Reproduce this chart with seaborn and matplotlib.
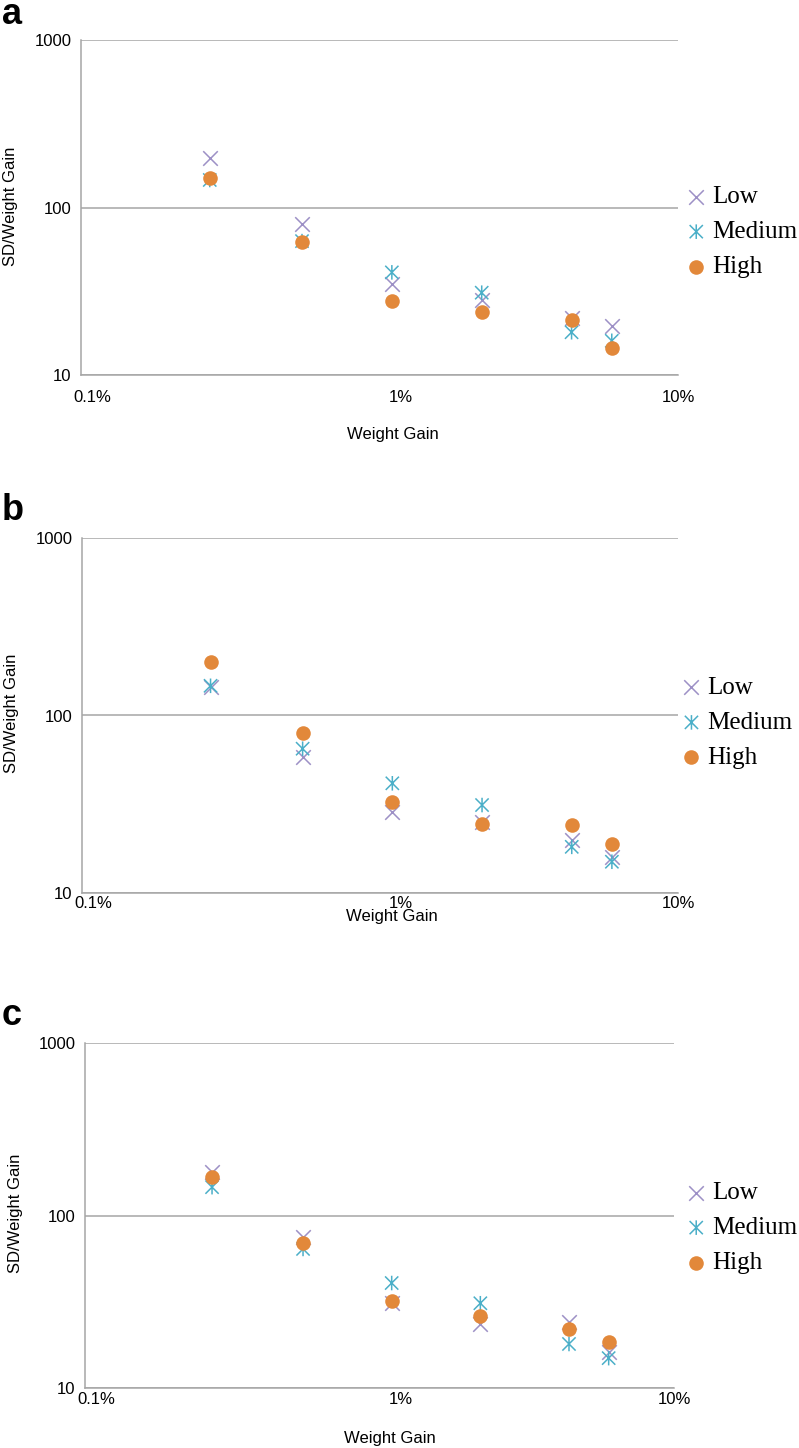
import numpy as np
import pandas as pd
import seaborn as sns
import matplotlib.pyplot as plt
from matplotlib.path import Path
from matplotlib.transforms import ScaledTranslation

sns.set_theme(style="white")
plt.rcParams['font.family'] = ['Liberation Sans', 'DejaVu Sans']
plt.rcParams['text.color'] = 'black'
plt.rcParams['axes.labelcolor'] = 'black'

# data (x in percent)
weight_gain = [0.27, 0.55, 1.1, 2.2, 4.4, 6.0]

a_low = [198, 80, 35, 28, 22, 19.6]
a_medium = [146, 63, 41, 31, 18, 16]
a_high = [150, 62, 27.5, 23.8, 21.3, 14.5]

b_low = [145, 58, 28.6, 25, 19.9, 16]
b_medium = [147, 65, 41.5, 31.3, 18.2, 15]
b_high = [200, 80, 32.5, 24.5, 24.2, 18.9]

c_low = [178, 75, 31, 23.5, 24.2, 16.2]
c_medium = [146, 64, 40.6, 31, 18, 14.9]
c_high = [167, 69, 32, 26, 22, 18.5]

levels = ["Low", "Medium", "High"]
panels = ["a", "b", "c"]
x_ticks = [0.1, 1, 10]
x_ticklabels = ["0.1%", "1%", "10%"]
y_ticks = [10, 100, 1000]
y_ticklabels = ["10", "100", "1000"]

colors = {"Low": "#9d90c6", "Medium": "#4bafc8", "High": "#e2883a"}

# Excel-style star: an x with a vertical bar
star = Path([(-1, -1), (1, 1), (-1, 1), (1, -1), (0, -1.1), (0, 1.1)],
            [Path.MOVETO, Path.LINETO, Path.MOVETO, Path.LINETO,
             Path.MOVETO, Path.LINETO])

panel_data = {
    "a": {"Low": a_low, "Medium": a_medium, "High": a_high},
    "b": {"Low": b_low, "Medium": b_medium, "High": b_high},
    "c": {"Low": c_low, "Medium": c_medium, "High": c_high},
}

W, H = 799, 1448
fig = plt.figure(figsize=(W / 100, H / 100), dpi=100)

# axes boxes in pixels: left, right, top, bottom
boxes = {"a": (81, 678, 40, 375), "b": (82, 678, 538, 893), "c": (85, 674, 1043, 1388)}
letter_base = {"a": 24, "b": 520, "c": 1025}
xlab_pos = {"a": (0.523, -0.155), "b": (0.52, -0.045), "c": (0.518, -0.125)}
xtick_pad = {"a": 11, "b": 2, "c": 3}
leg_pos = {"a": (1.018, 0.565), "b": (1.01, 0.61), "c": (1.025, 0.598)}
xtick_shift = [11, 21, 0]  # Excel puts the labels a little to the right

for p in panels:
    l, r, t, b = boxes[p]
    ax = fig.add_axes([l / W, 1 - b / H, (r - l) / W, (b - t) / H])
    for lev in levels:
        df = pd.DataFrame({"x": weight_gain, "y": panel_data[p][lev]})
        c = colors[lev]
        if lev == "High":
            sns.scatterplot(data=df, x="x", y="y", ax=ax, marker="o", s=110,
                            color=c, edgecolor=c, linewidth=0, label=lev, zorder=3)
        elif lev == "Low":
            sns.scatterplot(data=df, x="x", y="y", ax=ax, marker="x", s=110,
                            color=c, linewidth=1.1, label=lev, zorder=2)
        else:
            sns.scatterplot(data=df, x="x", y="y", ax=ax, marker=star,
                            s=110, color=c, edgecolor=c, facecolor="none",
                            linewidth=1.1, label=lev, zorder=2)
    ax.set_xscale("log")
    ax.set_yscale("log")
    ax.set_xlim(0.1, 10)
    ax.set_ylim(10, 1000)
    ax.set_xticks(x_ticks)
    ax.set_xticklabels(x_ticklabels)
    ax.set_yticks(y_ticks)
    ax.set_yticklabels(y_ticklabels)
    ax.minorticks_off()
    ax.tick_params(axis="both", length=0, labelsize=12, colors="black")
    ax.tick_params(axis="x", pad=xtick_pad[p])
    ax.tick_params(axis="y", pad=7)
    for lab, dx in zip(ax.get_xticklabels(), xtick_shift):
        lab.set_transform(lab.get_transform() + ScaledTranslation(dx / 100, 0, fig.dpi_scale_trans))
    ax.yaxis.grid(True, color="#a6a6a6", linewidth=1.1)
    ax.xaxis.grid(False)
    for s in ["top", "right"]:
        ax.spines[s].set_visible(False)
    for s in ["left", "bottom"]:
        ax.spines[s].set_color("#a6a6a6")
        ax.spines[s].set_linewidth(1.1)
    ax.set_xlabel("Weight Gain", fontsize=12)
    ax.set_ylabel("SD/Weight Gain", fontsize=12)
    ax.xaxis.set_label_coords(*xlab_pos[p])
    ax.yaxis.set_label_coords(-0.106, 0.505)
    ax.legend(loc="upper left", bbox_to_anchor=leg_pos[p], frameon=False,
              prop={"family": "Liberation Serif", "size": 18},
              handlelength=0.6, handletextpad=0.35, labelspacing=0.5,
              borderpad=0, borderaxespad=0)
    fig.text(2 / W, 1 - letter_base[p] / H, p, fontsize=26, fontweight="bold",
             va="baseline", ha="left")

fig.savefig("out.png", dpi=100)
